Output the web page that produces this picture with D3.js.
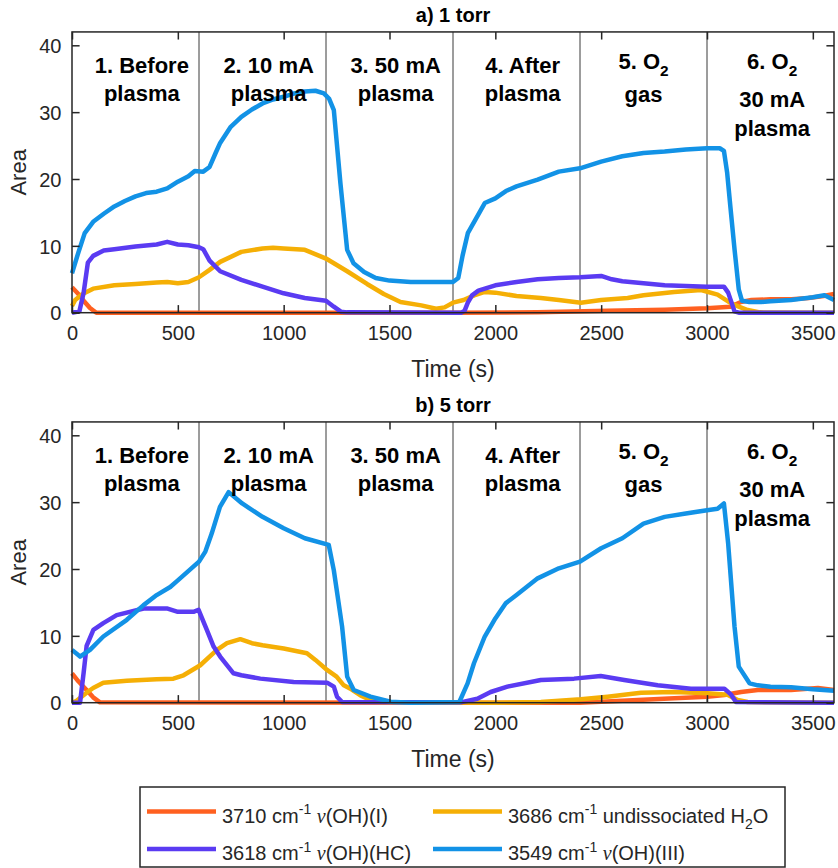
<!DOCTYPE html>
<html><head><meta charset="utf-8">
<script src="https://cdn.jsdelivr.net/npm/d3@7/dist/d3.min.js"></script>
<style>body{margin:0;background:#fff}svg{display:block}</style>
</head><body>
<svg id="chart" width="838" height="868"></svg>
<script>
// ---------- data ----------
const xTicks = [0, 500, 1000, 1500, 2000, 2500, 3000, 3500];
const yTicks = [0, 10, 20, 30, 40];
const phaseBounds = [600, 1200, 1800, 2400, 3000];
const panelTitles = ["a) 1 torr", "b) 5 torr"];
const xLabel = "Time (s)";
const yLabel = "Area";
// phase labels: lines, each line = segments [text, kind]
const phaseLabelX = [330, 929, 1529, 2129, 2700, 3308];
const phaseLabels = [
  [[["1. Before"]], [["plasma"]]],
  [[["2. 10 mA"]], [["plasma"]]],
  [[["3. 50 mA"]], [["plasma"]]],
  [[["4. After"]], [["plasma"]]],
  [[["5. O"], ["2", "sub"]], [["gas"]]],
  [[["6. O"], ["2", "sub"]], [["30 mA"]], [["plasma"]]]
];
const seriesNames = [
  [["3710 cm"], ["-1", "sup"], [" "], ["ν", "nu"], ["(OH)(I)"]],
  [["3686 cm"], ["-1", "sup"], [" undissociated H"], ["2", "sub"], ["O"]],
  [["3618 cm"], ["-1", "sup"], [" "], ["ν", "nu"], ["(OH)(HC)"]],
  [["3549 cm"], ["-1", "sup"], [" "], ["ν", "nu"], ["(OH)(III)"]]
];
const seriesColors = ["#FF6020", "#F5AF05", "#5A3BF2", "#1292E6"];

// panel a) 1 torr  [time s, area]
const a3710 = [[0,3.8],[30,2.8],[55,1.8],[85,0.7],[115,0],[1800,0],[2200,0.05],[2530,0.3],[2800,0.45],[3000,0.65],[3110,0.9],[3160,1.6],[3210,1.9],[3300,2.0],[3400,2.0],[3480,2.2],[3550,2.5],[3600,2.8]];
const a3686 = [[0,1.0],[15,1.9],[50,2.8],[100,3.6],[200,4.1],[300,4.3],[400,4.5],[450,4.6],[500,4.4],[550,4.6],[600,5.3],[650,6.4],[700,7.6],[800,9.1],[900,9.6],[950,9.7],[1000,9.6],[1100,9.4],[1200,8.1],[1300,6.2],[1394,4.3],[1473,2.8],[1552,1.6],[1650,1.1],[1720,0.6],[1760,0.8],[1800,1.5],[1850,1.9],[1900,2.6],[1950,3.1],[2000,3.0],[2100,2.5],[2215,2.2],[2300,1.9],[2404,1.5],[2500,1.9],[2625,2.2],[2700,2.6],[2845,3.1],[2972,3.4],[3050,2.7],[3114,1.4],[3150,0.9],[3192,0.4],[3250,0.05],[3600,0]];
const a3618 = [[0,0],[35,0.2],[55,3],[75,7.5],[100,8.5],[150,9.3],[200,9.5],[300,9.9],[400,10.2],[450,10.6],[500,10.2],[550,10.1],[600,9.8],[620,9.5],[650,7.8],[700,6.2],[800,4.9],[900,3.9],[1000,2.9],[1100,2.2],[1200,1.8],[1237,0.9],[1270,0.15],[1300,0.05],[1840,0],[1855,0.3],[1870,1.5],[1890,2.6],[1920,3.3],[2000,4.1],[2100,4.6],[2200,5.0],[2300,5.2],[2400,5.3],[2500,5.5],[2550,5.0],[2600,4.7],[2700,4.4],[2800,4.1],[2900,4.0],[3000,3.9],[3080,3.9],[3100,3.0],[3130,0.2],[3150,0],[3600,0]];
const a3549 = [[0,5.9],[30,9],[60,11.9],[100,13.6],[150,14.8],[200,15.9],[250,16.7],[300,17.4],[350,17.9],[400,18.1],[450,18.6],[500,19.6],[550,20.4],[580,21.2],[620,21.1],[650,21.8],[680,24.0],[700,25.4],[750,27.8],[800,29.3],[850,30.4],[900,31.3],[950,31.9],[1000,32.3],[1050,32.8],[1100,33.1],[1150,33.2],[1190,32.8],[1215,32.0],[1237,30.3],[1268,19.4],[1300,9.4],[1330,7.4],[1380,6.1],[1435,5.2],[1500,4.8],[1600,4.6],[1700,4.6],[1800,4.6],[1825,5.2],[1845,8.5],[1870,11.9],[1900,13.6],[1950,16.4],[2000,17.1],[2050,18.2],[2100,18.9],[2200,19.9],[2300,21.1],[2400,21.6],[2500,22.6],[2600,23.4],[2700,23.9],[2800,24.1],[2900,24.4],[3000,24.6],[3060,24.6],[3080,24.2],[3095,21],[3110,16],[3130,9.5],[3150,3.5],[3165,1.8],[3200,1.6],[3256,1.6],[3300,1.7],[3397,1.9],[3500,2.3],[3555,2.6],[3600,1.9]];

// panel b) 5 torr  [time s, area]
const b3710 = [[0,4.4],[30,3.2],[69,1.9],[100,0.8],[132,0.05],[2400,0],[2600,0.3],[2846,0.65],[3000,0.9],[3082,1.15],[3161,1.6],[3240,1.9],[3397,1.9],[3524,2.2],[3600,1.9]];
const b3686 = [[0,0],[22,0.3],[69,1.5],[100,2.2],[148,3.0],[259,3.3],[400,3.5],[479,3.6],[527,4.1],[606,5.6],[650,6.9],[685,7.9],[732,8.9],[795,9.5],[850,8.9],[900,8.6],[1000,8.1],[1110,7.4],[1150,6.4],[1205,4.9],[1250,3.9],[1284,2.6],[1320,2.0],[1363,1.1],[1410,0.4],[1450,0.1],[2000,0],[2215,0.1],[2404,0.5],[2530,0.9],[2688,1.5],[2846,1.6],[3003,1.4],[3097,1.2],[3145,0.4],[3192,0.1],[3600,0]];
const b3618 = [[0,0],[38,0],[55,4.5],[69,8.5],[101,10.9],[148,11.9],[211,13.1],[338,14.1],[448,14.1],[500,13.6],[574,13.6],[598,13.9],[637,10.9],[669,8.4],[700,6.9],[763,4.4],[800,4.1],[890,3.6],[1047,3.1],[1205,3.0],[1237,2.4],[1252,0.9],[1276,0.1],[1836,0.05],[1915,0.6],[1978,1.6],[2057,2.4],[2215,3.4],[2372,3.6],[2498,4.0],[2609,3.4],[2767,2.6],[2924,2.1],[3082,2.1],[3114,1.2],[3137,0.1],[3600,0]];
const b3549 = [[0,7.9],[38,6.9],[85,7.9],[148,9.9],[259,12.4],[338,14.6],[400,16.1],[464,17.3],[500,18.3],[600,21.1],[630,22.6],[660,25.3],[699,29.3],[740,31.5],[804,29.8],[900,27.8],[1000,26.1],[1100,24.6],[1213,23.6],[1237,19.8],[1276,11.4],[1300,3.9],[1331,1.9],[1410,0.9],[1505,0.15],[1600,0],[1830,0.1],[1869,2.9],[1899,5.9],[1950,9.9],[2000,12.6],[2050,14.9],[2100,16.1],[2200,18.6],[2300,20.1],[2400,21.1],[2500,23.1],[2600,24.6],[2700,26.8],[2800,27.8],[2900,28.3],[3000,28.8],[3050,29.0],[3080,29.8],[3100,23.8],[3130,11.4],[3150,5.4],[3201,2.9],[3240,2.6],[3300,2.4],[3397,2.3],[3500,2.0],[3600,1.8]];

const panelSeries = [[a3710, a3686, a3618, a3549], [b3710, b3686, b3618, b3549]];

// ---------- drawing ----------
const svg = d3.select("#chart");
const SANS = "'Liberation Sans', Arial, Helvetica, sans-serif";
const AX = "#262626";
const left = 72, right = 834;
const panels = [{zero: 312.7}, {zero: 702.7}];
const pxPerUnit = 6.685;
const x = d3.scaleLinear().domain([0, 3600]).range([left, right]);

function richText(sel, segs, size) {
  let shift = 0;
  segs.forEach(s => {
    const [txt, kind] = s;
    let target = 0;
    if (kind === "sup") target = -size * 0.42;
    else if (kind === "sub") target = size * 0.3;
    const t = sel.append("tspan").text(txt);
    if (target !== shift) t.attr("dy", target - shift);
    shift = target;
    if (kind === "sup" || kind === "sub") t.attr("font-size", size * 0.7);
    if (kind === "nu") t.attr("font-family", "'Liberation Serif', 'Times New Roman', serif").attr("font-style", "italic");
  });
}

panels.forEach((p, pi) => {
  const y = d3.scaleLinear().domain([0, 42]).range([p.zero, p.zero - 42 * pxPerUnit]);
  const top = y(42), bottom = y(0);
  const g = svg.append("g");

  // phase separators
  g.selectAll(".sep").data(phaseBounds).join("line")
    .attr("x1", d => x(d)).attr("x2", d => x(d))
    .attr("y1", top).attr("y2", bottom)
    .attr("stroke", "#3a3a3a").attr("stroke-width", 1);

  // series
  const line = d3.line().x(d => x(d[0])).y(d => y(d[1]));
  panelSeries[pi].forEach((data, si) => {
    g.append("path").datum(data).attr("d", line)
      .attr("fill", "none").attr("stroke", seriesColors[si])
      .attr("stroke-width", 4.5).attr("stroke-linejoin", "round").attr("stroke-linecap", "butt");
  });

  // phase labels
  const baseOffsets = [[41, 69], [41, 69], [41, 69], [41, 69], [37, 70], [37, 75, 104]];
  phaseLabels.forEach((lines, li) => {
    lines.forEach((segs, k) => {
      const t = g.append("text").attr("x", x(phaseLabelX[li])).attr("y", top + baseOffsets[li][k])
        .attr("text-anchor", "middle").attr("font-family", SANS).attr("font-weight", "bold")
        .attr("font-size", 22).attr("fill", "#000");
      richText(t, segs, 22);
    });
  });

  // axes box
  g.append("rect").attr("x", left).attr("y", top).attr("width", right - left).attr("height", bottom - top)
    .attr("fill", "none").attr("stroke", AX).attr("stroke-width", 1.5);

  const tl = 7.6;
  const xAxis = d3.axisBottom(x).tickValues(xTicks).tickSize(-tl).tickPadding(tl + 6).tickFormat(d3.format("d"));
  const xa = g.append("g").attr("transform", `translate(0,${bottom})`).call(xAxis);
  const xTop = d3.axisTop(x).tickValues(xTicks).tickSize(-tl);
  const xt = g.append("g").attr("transform", `translate(0,${top})`).call(xTop);
  const yAxis = d3.axisLeft(y).tickValues(yTicks).tickSize(-tl).tickPadding(tl + 3);
  const ya = g.append("g").attr("transform", `translate(${left},0)`).call(yAxis);
  const yRight = d3.axisRight(y).tickValues(yTicks).tickSize(-tl);
  const yr = g.append("g").attr("transform", `translate(${right},0)`).call(yRight);
  [xt, yr].forEach(a => a.selectAll(".tick text").remove());
  [xa, xt, ya, yr].forEach(a => {
    a.select(".domain").remove();
    a.selectAll(".tick line").attr("stroke", AX).attr("stroke-width", 1.5);
    a.selectAll(".tick text").attr("font-family", SANS).attr("font-size", 20).attr("fill", AX);
  });
  ya.selectAll(".tick text").attr("dy", "0.36em");

  // axis labels
  g.append("text").attr("x", (left + right) / 2).attr("y", bottom + 64)
    .attr("text-anchor", "middle").attr("font-family", SANS).attr("font-size", 23).attr("fill", AX).text(xLabel);
  g.append("text").attr("transform", `translate(26,${(top + bottom) / 2}) rotate(-90)`)
    .attr("text-anchor", "middle").attr("font-family", SANS).attr("font-size", 22).attr("fill", AX).text(yLabel);
  // title
  g.append("text").attr("x", (left + right) / 2).attr("y", top - 10)
    .attr("text-anchor", "middle").attr("font-family", SANS).attr("font-weight", "bold")
    .attr("font-size", 20).attr("fill", "#000").text(panelTitles[pi]);
});

// legend
const lg = svg.append("g");
lg.append("rect").attr("x", 140).attr("y", 787).attr("width", 645).attr("height", 80)
  .attr("fill", "#fff").attr("stroke", AX).attr("stroke-width", 1.5);
const legendCols = [147, 433];
const legendRows = [811.5, 849];
seriesNames.forEach((segs, i) => {
  const cx = legendCols[i % 2], cy = legendRows[Math.floor(i / 2)];
  lg.append("line").attr("x1", cx).attr("x2", cx + 69).attr("y1", cy).attr("y2", cy)
    .attr("stroke", seriesColors[i]).attr("stroke-width", 4.5);
  const t = lg.append("text").attr("x", cx + 75).attr("y", cy + 11)
    .attr("font-family", SANS).attr("font-size", 20).attr("fill", AX);
  richText(t, segs, 20);
});
</script>
</body></html>
